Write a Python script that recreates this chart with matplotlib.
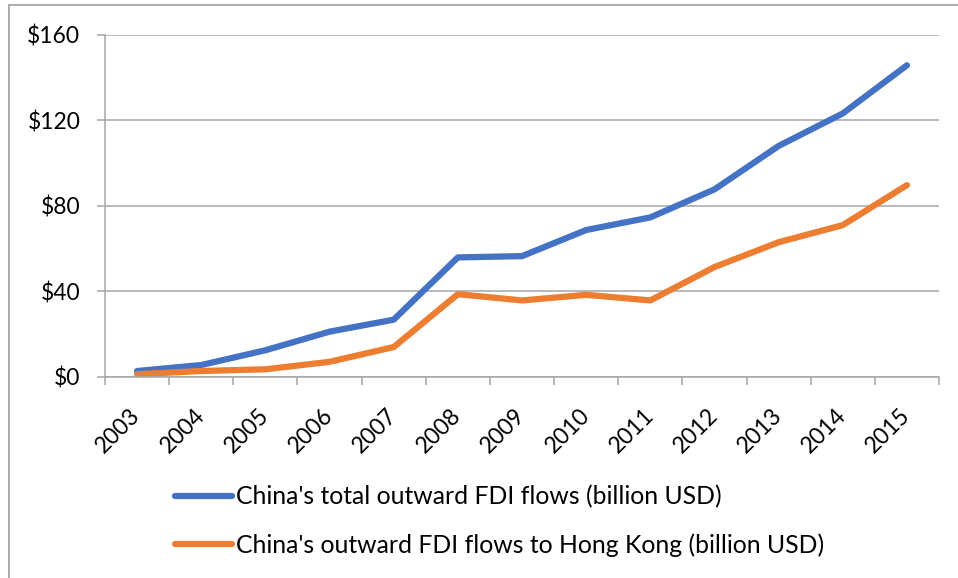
import matplotlib.pyplot as plt
from matplotlib.patches import Rectangle
from matplotlib.ticker import FixedLocator, FuncFormatter

plt.rcParams['font.family'] = ['Lato', 'DejaVu Sans']

years = ['2003', '2004', '2005', '2006', '2007', '2008', '2009',
         '2010', '2011', '2012', '2013', '2014', '2015']
total_fdi = [2.8, 5.6, 12.5, 21.2, 26.8, 55.9, 56.5, 68.7, 74.6, 87.7, 108.0, 123.2, 145.7]
hk_fdi = [1.3, 2.8, 3.6, 7.1, 14.0, 38.7, 35.8, 38.4, 35.8, 51.4, 63.0, 71.0, 89.7]

label_total = "China's total outward FDI flows (billion USD)"
label_hk = "China's outward FDI flows to Hong Kong (billion USD)"

blue = '#4472C4'
orange = '#ED7D31'
grey = '#A6A6A6'

fig = plt.figure(figsize=(9.58, 5.78), dpi=100)
ax = fig.add_axes([105 / 958, 1 - 377 / 578, 834 / 958, 342.3 / 578])

x = list(range(len(years)))
ax.plot(x, total_fdi, color=blue, lw=4.5, solid_capstyle='round',
        solid_joinstyle='round', label=label_total)
ax.plot(x, hk_fdi, color=orange, lw=4.5, solid_capstyle='round',
        solid_joinstyle='round', label=label_hk)

ax.set_xlim(-0.5, len(years) - 0.5)
ax.set_ylim(0, 160)
ax.set_yticks([0, 40, 80, 120, 160])
ax.yaxis.set_major_formatter(FuncFormatter(lambda v, p: f'${v:.0f}'))
ax.grid(axis='y', color=grey, lw=1.1)
ax.set_axisbelow(True)

# category labels centred on each point, tick marks between categories
ax.set_xticks(x)
ax.set_xticklabels(years, rotation=45, ha='right', va='center',
                   rotation_mode='anchor')
ax.xaxis.set_minor_locator(FixedLocator([i - 0.5 for i in range(len(years) + 1)]))
ax.tick_params(axis='x', which='major', length=0, pad=25, labelsize=16.5)
ax.tick_params(axis='x', which='minor', length=5.8, width=1.1, color=grey)
ax.tick_params(axis='y', length=5.8, width=1.1, color=grey, labelsize=16.5, pad=12)

for side in ['top', 'right']:
    ax.spines[side].set_visible(False)
for side in ['left', 'bottom']:
    ax.spines[side].set_color(grey)
    ax.spines[side].set_linewidth(1.1)

fig.legend(loc='center left', bbox_to_anchor=(175 / 958, 1 - 521 / 578),
           frameon=False, fontsize=17.8, handlelength=2.3, handletextpad=0.16,
           labelspacing=1.0, borderpad=0, borderaxespad=0)

# chart area border
fig.patches.append(Rectangle((9 / 958, -0.1), 1.1, 1 - 5 / 578 + 0.1,
                             transform=fig.transFigure, fill=False,
                             edgecolor=grey, lw=1.3))

fig.savefig('out.png', dpi=100)
